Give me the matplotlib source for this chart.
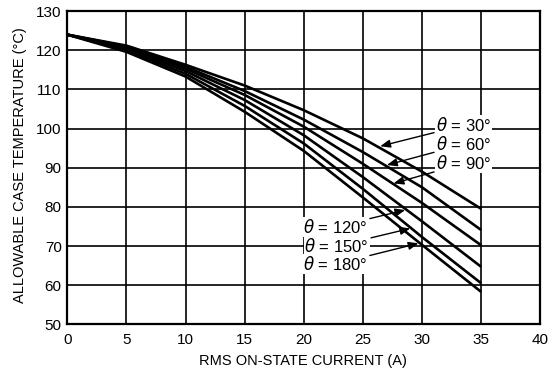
import matplotlib
matplotlib.use("Agg")
import matplotlib.pyplot as plt

current = [0, 5, 10, 15, 20, 25, 30, 35]
temp_30 = [124, 121.2, 116.3, 111.0, 104.7, 97.5, 89.0, 79.5]
temp_60 = [124, 121.0, 115.8, 109.6, 102.3, 94.0, 85.0, 74.1]
temp_90 = [124, 120.7, 115.3, 108.6, 100.5, 91.0, 81.0, 70.2]
temp_120 = [124, 120.4, 114.7, 107.3, 98.3, 87.6, 76.3, 64.7]
temp_150 = [124, 120.0, 114.0, 105.8, 96.2, 84.6, 72.3, 60.5]
temp_180 = [124, 119.6, 113.3, 104.3, 94.3, 82.4, 70.3, 58.3]

labels = [r"$\theta$ = 30°", r"$\theta$ = 60°", r"$\theta$ = 90°",
          r"$\theta$ = 120°", r"$\theta$ = 150°", r"$\theta$ = 180°"]
series = [temp_30, temp_60, temp_90, temp_120, temp_150, temp_180]

x_ticks = [0, 5, 10, 15, 20, 25, 30, 35, 40]
y_ticks = [50, 60, 70, 80, 90, 100, 110, 120, 130]

plt.rcParams['font.family'] = ['Liberation Sans', 'DejaVu Sans']
plt.rcParams['mathtext.fontset'] = 'dejavusans'

fig = plt.figure(figsize=(5.58, 3.72), dpi=100)
ax = fig.add_axes([0.1206, 0.128, 0.8477, 0.842])

for s in series:
    ax.plot(current, s, color='black', lw=1.9, solid_capstyle='butt', zorder=3)

ax.set_xlim(0, 40)
ax.set_ylim(50, 130)
ax.set_xticks(x_ticks)
ax.set_yticks(y_ticks)
ax.grid(True, color='black', lw=1.2, zorder=1)
ax.set_axisbelow(True)
for sp in ax.spines.values():
    sp.set_linewidth(1.6)
ax.tick_params(axis='x', length=0, labelsize=11, pad=6)
ax.tick_params(axis='y', length=0, labelsize=11, pad=4)

fig.text(303 / 558, 1 - 361 / 372, "RMS ON-STATE CURRENT (A)", fontsize=10.5,
         ha='center', va='center')
fig.text(20 / 558, 1 - 165 / 372, "ALLOWABLE CASE TEMPERATURE (°C)", fontsize=10.5,
         ha='center', va='center', rotation=90)

# annotations: (text position, arrow tip)
text_pos = [(31.2, 100.9), (31.2, 96.0), (31.2, 91.1),
            (25.4, 74.9), (25.5, 70.0), (25.4, 65.4)]
tips = [(26.46, 95.5), (27.03, 90.7), (27.59, 86.0),
        (28.58, 79.2), (29.0, 74.5), (29.7, 70.7)]
has = ['left', 'left', 'left', 'right', 'right', 'right']
for lab, tp, tip, ha in zip(labels, text_pos, tips, has):
    ax.annotate(lab, xy=tip, xytext=tp, ha=ha, va='center', fontsize=12,
                bbox=dict(boxstyle='square,pad=0.05', fc='white', ec='none'),
                arrowprops=dict(arrowstyle='-|>,head_length=0.5,head_width=0.2',
                                color='black', lw=1.0, shrinkA=1, shrinkB=0),
                zorder=5)

fig.savefig("out.png", dpi=100)
